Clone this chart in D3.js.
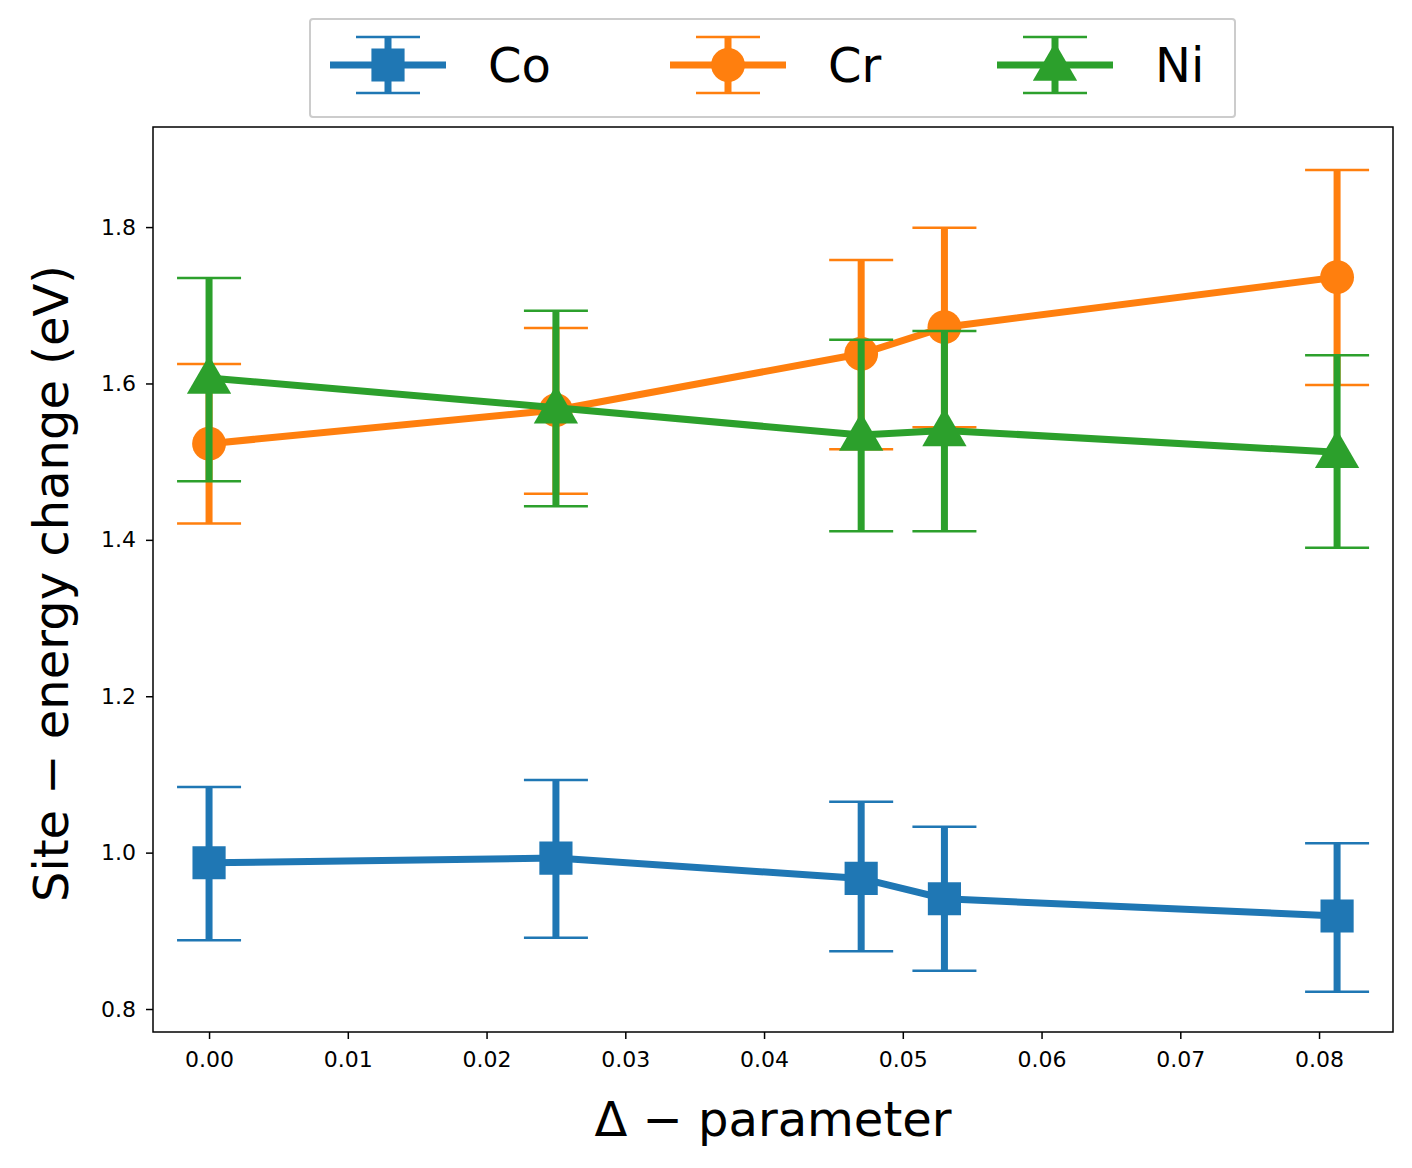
<!DOCTYPE html><html><head><meta charset="utf-8">
<script src="https://cdn.jsdelivr.net/npm/d3@7"></script>
<style>body{margin:0;background:#fff}</style></head><body>
<svg id="c" width="1412" height="1168"></svg>
<script>
const xVals=[0,0.025,0.047,0.053,0.0813];
const coY=[0.987,0.993,0.967,0.941,0.919];
const coLo=[0.888,0.891,0.874,0.849,0.822];
const coHi=[1.084,1.093,1.065,1.033,1.012];
const crY=[1.523,1.566,1.638,1.672,1.736];
const crLo=[1.421,1.459,1.516,1.544,1.598];
const crHi=[1.625,1.671,1.758,1.799,1.873];
const niY=[1.607,1.569,1.534,1.540,1.512];
const niLo=[1.475,1.443,1.411,1.411,1.390];
const niHi=[1.735,1.693,1.656,1.667,1.636];
const xTicks=[0,0.01,0.02,0.03,0.04,0.05,0.06,0.07,0.08];
const yTicks=[0.8,1.0,1.2,1.4,1.6,1.8];
const series=[
 {name:"Co",color:"#1f77b4",y:coY,lo:coLo,hi:coHi,m:"square"},
 {name:"Cr",color:"#ff7f0e",y:crY,lo:crLo,hi:crHi,m:"circle"},
 {name:"Ni",color:"#2ca02c",y:niY,lo:niLo,hi:niHi,m:"triangle"}];
const L=153,R=1393,T=127,B=1032;
const svg=d3.select("#c");
const x=d3.scaleLinear().domain([-0.00404,0.08533]).range([L,R]);
const y=d3.scaleLinear().domain([0.7706,1.928]).range([B,T]);
const font="DejaVu Sans, sans-serif";
const xa=svg.append("g").attr("transform",`translate(0,${B})`).call(d3.axisBottom(x).tickValues(xTicks).tickFormat(d3.format(".2f")).tickSize(7).tickPadding(12));
const ya=svg.append("g").attr("transform",`translate(${L},0)`).call(d3.axisLeft(y).tickValues(yTicks).tickFormat(d3.format(".1f")).tickSize(7).tickPadding(10));
[xa,ya].forEach(a=>{a.select(".domain").remove();a.selectAll("line").attr("stroke","#000").attr("stroke-width",1.5);a.selectAll("text").attr("font-size",22).attr("font-family",font).attr("fill","#000");});
const sym={square:d3.symbolSquare,circle:d3.symbolCircle,triangle:d3.symbolTriangle};
const size={square:1100,circle:900,triangle:850};
series.forEach(s=>{
 const g=svg.append("g");
 xVals.forEach((xv,i)=>{
  g.append("line").attr("x1",x(xv)).attr("x2",x(xv)).attr("y1",y(s.lo[i])).attr("y2",y(s.hi[i])).attr("stroke",s.color).attr("stroke-width",7);
  [s.lo[i],s.hi[i]].forEach(v=>g.append("line").attr("x1",x(xv)-32).attr("x2",x(xv)+32).attr("y1",y(v)).attr("y2",y(v)).attr("stroke",s.color).attr("stroke-width",2.5));
 });
 g.append("path").datum(xVals.map((xv,i)=>[xv,s.y[i]])).attr("d",d3.line().x(d=>x(d[0])).y(d=>y(d[1]))).attr("fill","none").attr("stroke",s.color).attr("stroke-width",7);
 xVals.forEach((xv,i)=>g.append("path").attr("d",d3.symbol(sym[s.m],size[s.m])()).attr("transform",`translate(${x(xv)},${y(s.y[i])+(s.m==="triangle"?3:0)})`).attr("fill",s.color));
});
svg.append("rect").attr("x",L).attr("y",T).attr("width",R-L).attr("height",B-T).attr("fill","none").attr("stroke","#000").attr("stroke-width",1.5);
svg.append("text").attr("x",(L+R)/2).attr("y",1136).attr("text-anchor","middle").attr("font-size",48).attr("font-family",font).attr("xml:space","preserve").text("Δ − parameter");
svg.append("text").attr("transform",`translate(68,${(T+B)/2+4}) rotate(-90)`).attr("text-anchor","middle").attr("font-size",48).attr("font-family",font).attr("xml:space","preserve").text("Site − energy change (eV)");
svg.append("rect").attr("x",310).attr("y",19).attr("width",925).attr("height",98).attr("fill","#fff").attr("stroke","#ccc").attr("stroke-width",2).attr("rx",3);
const lx=[388,728,1055];
series.forEach((s,i)=>{
 const cx=lx[i],cy=65;
 const g=svg.append("g");
 g.append("line").attr("x1",cx-58).attr("x2",cx+58).attr("y1",cy).attr("y2",cy).attr("stroke",s.color).attr("stroke-width",7);
 g.append("line").attr("x1",cx).attr("x2",cx).attr("y1",cy-28).attr("y2",cy+28).attr("stroke",s.color).attr("stroke-width",7);
 [cy-28,cy+28].forEach(v=>g.append("line").attr("x1",cx-32).attr("x2",cx+32).attr("y1",v).attr("y2",v).attr("stroke",s.color).attr("stroke-width",2.5));
 g.append("path").attr("d",d3.symbol(sym[s.m],size[s.m])()).attr("transform",`translate(${cx},${cy+(s.m==="triangle"?3:0)})`).attr("fill",s.color);
 svg.append("text").attr("x",cx+100).attr("y",cy+17).attr("font-size",48).attr("font-family",font).text(s.name);
});
</script></body></html>
